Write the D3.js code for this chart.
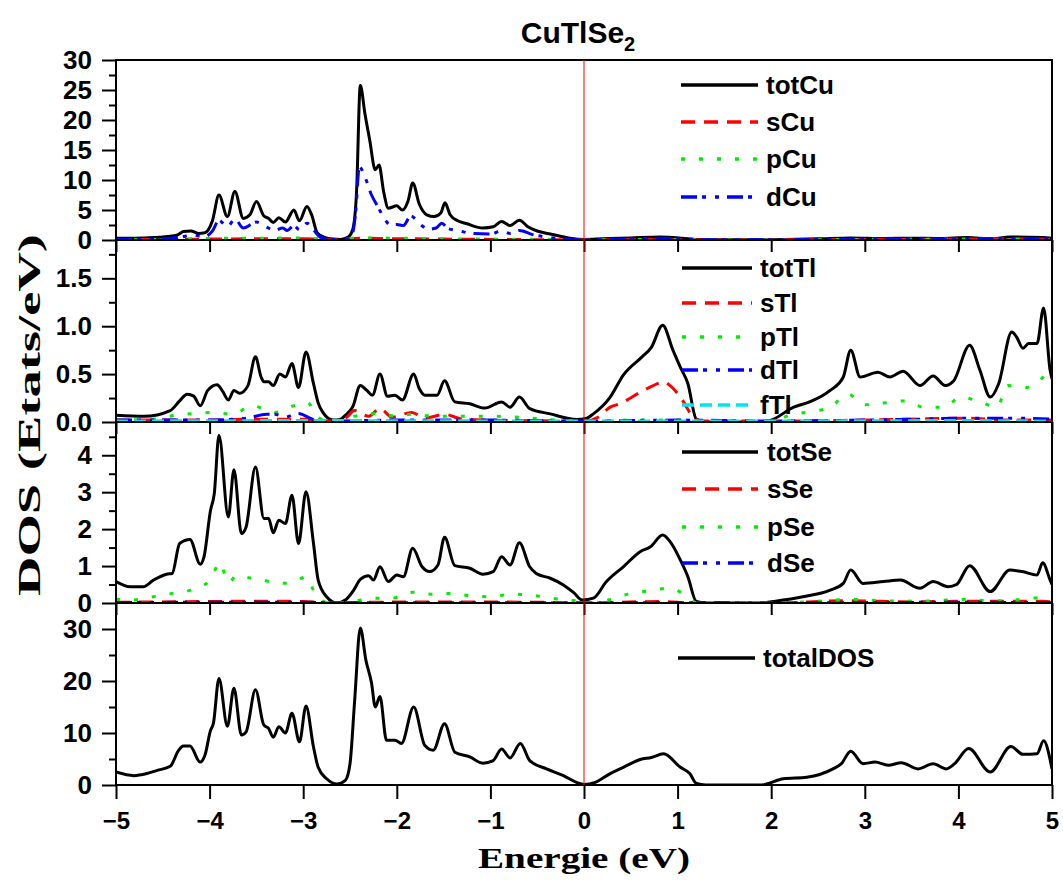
<!DOCTYPE html>
<html>
<head>
<meta charset="utf-8">
<script src="https://cdn.jsdelivr.net/npm/d3@7"></script>
<style>
  body { margin: 0; background: #fff; }
  svg { display: block; }
</style>
</head>
<body>
<svg id="chart" width="1063" height="882"></svg>
<script>
// ---- Energy axis ----
const energyDomain = [-5, 5];
const energyTicks = [-5, -4, -3, -2, -1, 0, 1, 2, 3, 4, 5];

// ---- Cu projected DOS (E in eV, DOS in states/eV) ----
const totCu = [[-5,0.3],[-4.8,0.3],[-4.6,0.4],[-4.45,0.6],[-4.35,0.8],[-4.28,1.4],[-4.2,1.5],[-4.12,1.1],[-4.05,1.2],[-3.97,3.2],[-3.9,7.5],[-3.81,3.9],[-3.73,8.1],[-3.64,3.6],[-3.57,4.2],[-3.5,6.4],[-3.42,4.0],[-3.37,3.6],[-3.32,2.9],[-3.26,3.7],[-3.19,3.0],[-3.1,5.0],[-3.04,3.2],[-2.96,5.6],[-2.91,4.2],[-2.85,1.2],[-2.78,0.5],[-2.68,0.15],[-2.6,0.1],[-2.52,0.5],[-2.47,1.8],[-2.43,8],[-2.39,25.8],[-2.34,21],[-2.29,16.7],[-2.23,11.7],[-2.19,12.5],[-2.14,8],[-2.09,5.3],[-2.0,5.7],[-1.94,5.0],[-1.88,6.5],[-1.83,9.5],[-1.76,6],[-1.68,4.2],[-1.6,3.9],[-1.53,4.5],[-1.485,6.2],[-1.43,4.2],[-1.35,3.2],[-1.25,2.7],[-1.08,2.0],[-0.97,2.2],[-0.88,3.1],[-0.79,2.4],[-0.69,3.3],[-0.6,2.2],[-0.5,1.5],[-0.36,1.0],[-0.15,0.3],[0,0.1],[0.2,0.2],[0.5,0.35],[0.81,0.5],[1.05,0.3],[1.2,0.1],[1.5,0.05],[2.0,0.05],[2.5,0.2],[2.85,0.35],[3.2,0.25],[3.5,0.3],[3.8,0.25],[4.1,0.4],[4.35,0.2],[4.55,0.5],[4.9,0.4],[5,0.3]];
const sCu = [[-5,0.05],[-4,0.15],[-3.5,0.2],[-3,0.2],[-2.7,0.05],[-2.4,0.3],[-2.2,0.25],[-1.8,0.2],[-1.5,0.15],[-1,0.1],[-0.5,0.05],[0,0.02],[0.8,0.1],[1.3,0.02],[2,0.02],[3,0.1],[4,0.15],[4.6,0.2],[5,0.1]];
const pCu = [[-5,0.05],[-4.5,0.1],[-4,0.25],[-3.5,0.3],[-3,0.35],[-2.7,0.05],[-2.4,0.35],[-2,0.3],[-1.5,0.2],[-1,0.15],[-0.5,0.1],[0,0.02],[0.8,0.1],[1.3,0.02],[2,0.02],[3,0.1],[4,0.15],[5,0.1]];
const dCu = [[-5,0.1],[-4.6,0.15],[-4.3,0.5],[-4.2,0.8],[-4.05,0.6],[-3.97,1.5],[-3.9,3.3],[-3.81,2.2],[-3.73,3.5],[-3.64,2.0],[-3.5,3.0],[-3.4,2.2],[-3.3,1.6],[-3.22,2.0],[-3.17,1.6],[-3.1,2.4],[-3.04,1.7],[-2.96,2.8],[-2.88,1.5],[-2.82,0.5],[-2.7,0.1],[-2.55,0.1],[-2.48,0.8],[-2.44,4.5],[-2.4,12.2],[-2.34,10.5],[-2.27,7.5],[-2.2,5.5],[-2.13,3.5],[-2.07,2.5],[-2.0,2.6],[-1.93,2.4],[-1.85,4.0],[-1.75,2.6],[-1.66,1.8],[-1.58,2.0],[-1.52,2.8],[-1.45,1.9],[-1.35,1.6],[-1.2,1.1],[-1.0,1.0],[-0.88,1.5],[-0.79,1.1],[-0.69,1.6],[-0.55,0.9],[-0.4,0.5],[-0.2,0.15],[0,0.05],[0.5,0.2],[0.8,0.3],[1.1,0.15],[1.3,0.05],[2,0.03],[2.85,0.15],[3.5,0.15],[4.1,0.2],[4.6,0.25],[5,0.15]];

// ---- Tl projected DOS ----
const totTl = [[-5,0.07],[-4.7,0.06],[-4.42,0.12],[-4.32,0.22],[-4.24,0.29],[-4.17,0.27],[-4.1,0.17],[-4.02,0.33],[-3.92,0.39],[-3.86,0.32],[-3.8,0.23],[-3.74,0.33],[-3.68,0.3],[-3.59,0.38],[-3.51,0.68],[-3.45,0.47],[-3.42,0.42],[-3.37,0.42],[-3.32,0.38],[-3.25,0.5],[-3.19,0.47],[-3.12,0.61],[-3.05,0.36],[-2.97,0.73],[-2.89,0.4],[-2.84,0.2],[-2.79,0.1],[-2.68,0.02],[-2.6,0.03],[-2.55,0.07],[-2.47,0.16],[-2.39,0.38],[-2.32,0.33],[-2.26,0.28],[-2.18,0.5],[-2.1,0.27],[-2.02,0.28],[-1.94,0.23],[-1.82,0.5],[-1.76,0.35],[-1.7,0.28],[-1.57,0.28],[-1.49,0.43],[-1.38,0.21],[-1.22,0.19],[-1.06,0.145],[-0.88,0.21],[-0.79,0.155],[-0.69,0.26],[-0.58,0.14],[-0.36,0.085],[-0.08,0.026],[0.03,0.04],[0.1,0.085],[0.28,0.26],[0.42,0.49],[0.62,0.68],[0.72,0.78],[0.84,1.01],[0.95,0.75],[1.03,0.57],[1.11,0.4],[1.2,0.03],[1.3,0.0],[1.9,0.0],[1.99,0.015],[2.24,0.155],[2.41,0.21],[2.63,0.33],[2.77,0.47],[2.85,0.75],[2.95,0.47],[3.14,0.52],[3.27,0.47],[3.41,0.53],[3.59,0.38],[3.73,0.48],[3.86,0.38],[3.95,0.43],[4.12,0.8],[4.23,0.54],[4.34,0.26],[4.43,0.4],[4.57,0.94],[4.62,0.89],[4.69,0.77],[4.75,0.82],[4.84,0.82],[4.91,1.19],[4.98,0.54],[5,0.45]];
const sTl = [[-5,0.02],[-4,0.02],[-3.5,0.03],[-3,0.03],[-2.7,0.01],[-2.55,0.04],[-2.45,0.12],[-2.3,0.06],[-2.18,0.14],[-2.05,0.05],[-1.84,0.1],[-1.7,0.04],[-1.49,0.08],[-1.3,0.03],[-1,0.02],[0,0.01],[0.15,0.05],[0.28,0.155],[0.38,0.19],[0.6,0.31],[0.74,0.38],[0.85,0.42],[0.92,0.38],[1.03,0.26],[1.17,0.05],[1.25,0.01],[2,0.01],[3,0.02],[4.1,0.04],[4.5,0.02],[5,0.02]];
const pTl = [[-5,0.02],[-4.6,0.03],[-4.37,0.07],[-4.15,0.09],[-3.95,0.1],[-3.75,0.08],[-3.55,0.17],[-3.3,0.1],[-3.1,0.17],[-2.95,0.2],[-2.85,0.05],[-2.7,0.01],[-2.45,0.06],[-2.2,0.09],[-2.0,0.06],[-1.85,0.08],[-1.6,0.06],[-1.3,0.06],[-1.0,0.06],[-0.7,0.05],[-0.3,0.02],[0,0.01],[0.5,0.02],[1.0,0.02],[1.2,0.01],[2.0,0.01],[2.2,0.07],[2.63,0.155],[2.82,0.29],[3.0,0.18],[3.22,0.2],[3.43,0.22],[3.63,0.155],[3.84,0.155],[4.03,0.26],[4.23,0.21],[4.41,0.155],[4.53,0.38],[4.73,0.36],[4.85,0.42],[4.96,0.52],[5,0.55]];
const dTl = [[-5,0.02],[-4,0.02],[-3.6,0.04],[-3.39,0.08],[-3.3,0.08],[-3.2,0.05],[-3.05,0.09],[-2.9,0.03],[-2.7,0.01],[-2,0.02],[-1,0.02],[0,0.01],[1,0.02],[2,0.01],[3,0.02],[3.6,0.03],[4.1,0.04],[4.6,0.04],[5,0.03]];
const fTl = [[-5,0.01],[-3,0.015],[0,0.01],[2,0.01],[4,0.015],[5,0.01]];

// ---- Se projected DOS ----
const totSe = [[-5,0.58],[-4.85,0.44],[-4.71,0.44],[-4.6,0.62],[-4.46,0.78],[-4.4,0.8],[-4.32,1.61],[-4.21,1.72],[-4.1,1.05],[-4.06,1.25],[-3.99,2.51],[-3.95,2.96],[-3.9,4.54],[-3.8,2.33],[-3.74,3.61],[-3.66,1.88],[-3.61,2.06],[-3.51,3.68],[-3.42,2.29],[-3.37,2.29],[-3.32,1.9],[-3.26,2.24],[-3.19,2.15],[-3.12,2.92],[-3.05,1.61],[-2.97,3.01],[-2.89,1.61],[-2.84,0.62],[-2.75,0.17],[-2.64,0.0],[-2.55,0.08],[-2.46,0.35],[-2.39,0.64],[-2.3,0.74],[-2.25,0.62],[-2.18,0.98],[-2.09,0.58],[-2.0,0.76],[-1.93,0.71],[-1.83,1.48],[-1.73,0.98],[-1.65,0.85],[-1.56,1.03],[-1.49,1.78],[-1.38,1.01],[-1.22,0.94],[-1.08,0.78],[-0.97,0.85],[-0.88,1.25],[-0.79,1.03],[-0.69,1.63],[-0.58,0.98],[-0.51,0.8],[-0.36,0.67],[-0.22,0.49],[-0.11,0.28],[-0.02,0.08],[0.1,0.13],[0.24,0.58],[0.42,0.98],[0.6,1.39],[0.71,1.52],[0.84,1.84],[0.92,1.66],[1.03,1.16],[1.11,0.71],[1.2,0.04],[1.3,0.0],[1.9,0.0],[2.02,0.04],[2.34,0.17],[2.63,0.35],[2.77,0.53],[2.85,0.89],[2.98,0.53],[3.2,0.58],[3.38,0.62],[3.59,0.4],[3.73,0.58],[3.89,0.44],[3.98,0.5],[4.12,1.01],[4.34,0.31],[4.55,0.89],[4.68,0.85],[4.84,0.76],[4.9,1.09],[4.98,0.62],[5,0.5]];
const sSe = [[-5,0.02],[-4,0.04],[-3.5,0.05],[-3,0.04],[-2.7,0.0],[-2.3,0.02],[-1.5,0.03],[-0.5,0.02],[0,0.0],[0.8,0.04],[1.2,0.0],[2,0.0],[2.8,0.06],[3.5,0.03],[4.1,0.05],[4.9,0.05],[5,0.03]];
const pSe = [[-5,0.1],[-4.85,0.08],[-4.6,0.17],[-4.4,0.26],[-4.2,0.35],[-4.0,0.6],[-3.89,1.09],[-3.8,0.55],[-3.71,0.74],[-3.55,0.67],[-3.46,0.64],[-3.26,0.53],[-3.09,0.58],[-2.97,0.71],[-2.87,0.24],[-2.75,0.02],[-2.6,0.0],[-2.45,0.05],[-2.27,0.13],[-2.05,0.13],[-1.83,0.29],[-1.63,0.24],[-1.41,0.26],[-1.2,0.19],[-0.99,0.17],[-0.78,0.24],[-0.58,0.22],[-0.36,0.13],[-0.15,0.08],[0.06,0.0],[0.26,0.08],[0.47,0.24],[0.69,0.33],[0.9,0.4],[1.11,0.17],[1.2,0.01],[2.0,0.01],[2.4,0.03],[2.85,0.1],[3.2,0.06],[3.6,0.05],[4.12,0.1],[4.35,0.05],[4.6,0.08],[4.9,0.15],[5,0.12]];
const dSe = [[-5,0.01],[-4,0.02],[-3,0.02],[-2.6,0],[-2,0.01],[-1,0.01],[0,0],[1,0.01],[2,0],[3,0.01],[4,0.02],[5,0.01]];

// ---- Total DOS ----
const totalDOS = [[-5,2.5],[-4.81,1.8],[-4.67,2.2],[-4.56,2.8],[-4.42,3.6],[-4.33,6.7],[-4.28,7.5],[-4.21,7.5],[-4.1,4.4],[-4.05,5.7],[-3.99,10.5],[-3.96,11.8],[-3.9,20.5],[-3.81,11.3],[-3.74,18.6],[-3.66,9.6],[-3.61,10.2],[-3.51,18.3],[-3.42,11.5],[-3.37,10.9],[-3.32,9.2],[-3.26,11.2],[-3.19,10.0],[-3.12,13.8],[-3.04,8.3],[-2.97,15.2],[-2.89,7.3],[-2.84,3.4],[-2.75,1.2],[-2.64,0.2],[-2.55,0.9],[-2.5,4.1],[-2.45,16.3],[-2.39,30.2],[-2.33,24],[-2.27,19.6],[-2.23,15],[-2.18,17],[-2.11,8.6],[-2.02,8.6],[-1.95,8.0],[-1.82,15],[-1.7,7.6],[-1.61,6.7],[-1.49,11.8],[-1.38,6.3],[-1.22,5.4],[-1.08,4.2],[-0.97,4.7],[-0.88,6.9],[-0.79,5.2],[-0.68,8.0],[-0.58,4.7],[-0.4,3.1],[-0.22,1.8],[-0.08,0.5],[0,0.1],[0.12,0.5],[0.28,2.2],[0.42,3.4],[0.6,4.9],[0.72,5.3],[0.85,6.0],[1.03,3.4],[1.13,2.2],[1.2,0.3],[1.3,0],[1.9,0],[1.95,0.2],[2.13,1.2],[2.38,1.5],[2.66,3.1],[2.75,4.1],[2.85,6.5],[2.98,4.1],[3.11,4.4],[3.25,3.8],[3.39,4.3],[3.57,3.1],[3.73,4.1],[3.87,3.1],[3.96,4.1],[4.11,7.0],[4.34,2.5],[4.56,7.4],[4.69,5.9],[4.84,6.0],[4.91,8.5],[5.0,3.1]];

// ---- Y tick values per panel ----
const cuTicks = [0, 5, 10, 15, 20, 25, 30];
const tlTicks = [0, 0.5, 1.0, 1.5];
const seTicks = [0, 1, 2, 3, 4];
const totTicks = [0, 10, 20, 30];

// ---- Line styles ----
const styles = {
  tot: { color: "#000000", dash: null },
  s:   { color: "#ff0000", dash: "14,9" },
  p:   { color: "#00ee00", dash: "4,14" },
  d:   { color: "#0000ff", dash: "16,5,4,9,4,8" },
  f:   { color: "#00e5ee", dash: "12,6" }
};

const W = 1063, H = 882;
const plotLeft = 116, plotRight = 1052;
const svg = d3.select("#chart");
const x = d3.scaleLinear().domain(energyDomain).range([plotLeft, plotRight]);

const FONT_SANS = "'Liberation Sans', Arial, Helvetica, sans-serif";
const FONT_SERIF = "'Liberation Serif', 'Times New Roman', Times, serif";

const panels = [
  { top: 60,  bottom: 240, yMax: 30,  ticks: cuTicks, minorStep: 2.5, fmt: d3.format("d"),
    series: [["totCu", totCu, "tot"], ["sCu", sCu, "s"], ["pCu", pCu, "p"], ["dCu", dCu, "d"]],
    legend: { x1: 681, x2: 758, tx: 766, ys: [85, 122, 159, 197] }, topTicks: false },
  { top: 240, bottom: 422, yMax: 1.9, ticks: tlTicks, minorStep: 0.25, fmt: d3.format(".1f"),
    series: [["totTl", totTl, "tot"], ["sTl", sTl, "s"], ["pTl", pTl, "p"], ["dTl", dTl, "d"], ["fTl", fTl, "f"]],
    legend: { x1: 682, x2: 752, tx: 760, ys: [268, 303, 337, 370, 405] }, topTicks: true },
  { top: 422, bottom: 603, yMax: 4.9, ticks: seTicks, minorStep: 0.5, fmt: d3.format("d"),
    series: [["totSe", totSe, "tot"], ["sSe", sSe, "s"], ["pSe", pSe, "p"], ["dSe", dSe, "d"]],
    legend: { x1: 682, x2: 758, tx: 767, ys: [452, 489, 527, 563] }, topTicks: true },
  { top: 603, bottom: 785, yMax: 35, ticks: totTicks, minorStep: 5, fmt: d3.format("d"),
    series: [["totalDOS", totalDOS, "tot"]],
    legend: { x1: 678, x2: 755, tx: 763, ys: [658] }, topTicks: true }
];

panels.forEach((p, i) => {
  const y = d3.scaleLinear().domain([0, p.yMax]).range([p.bottom, p.top]);
  const g = svg.append("g");

  const clipId = "clip" + i;
  svg.append("clipPath").attr("id", clipId)
    .append("rect").attr("x", plotLeft).attr("y", p.top)
    .attr("width", plotRight - plotLeft).attr("height", p.bottom - p.top);

  const line = d3.line()
    .x(d => x(d[0])).y(d => y(d[1]))
    .curve(d3.curveMonotoneX);

  const lines = g.append("g").attr("clip-path", `url(#${clipId})`);
  p.series.forEach(([name, data, kind]) => {
    const st = styles[kind];
    lines.append("path")
      .datum(data)
      .attr("d", line)
      .attr("fill", "none")
      .attr("stroke", st.color)
      .attr("stroke-width", 3)
      .attr("stroke-linejoin", "round")
      .attr("stroke-dasharray", st.dash);
  });

  // minor y ticks
  const minorVals = d3.range(p.minorStep, p.yMax, p.minorStep)
    .filter(v => !p.ticks.some(t => Math.abs(t - v) < 1e-9));
  const minorAxis = g.append("g").attr("transform", `translate(${plotLeft},0)`)
    .call(d3.axisLeft(y).tickValues(minorVals).tickSize(7).tickFormat(""));
  minorAxis.select(".domain").remove();
  minorAxis.selectAll("line").attr("stroke", "#000").attr("stroke-width", 2);

  // major y ticks and labels
  const yAxis = g.append("g").attr("transform", `translate(${plotLeft},0)`)
    .call(d3.axisLeft(y).tickValues(p.ticks).tickSize(14).tickPadding(10).tickFormat(p.fmt));
  yAxis.select(".domain").remove();
  yAxis.selectAll("line").attr("stroke", "#000").attr("stroke-width", 2);
  yAxis.selectAll("text")
    .attr("font-family", FONT_SANS).attr("font-weight", "bold")
    .attr("font-size", 26).attr("fill", "#000");

  // inward energy ticks on the top edge
  if (p.topTicks) {
    const tAxis = g.append("g").attr("transform", `translate(0,${p.top})`)
      .call(d3.axisBottom(x).tickValues(energyTicks).tickSize(12).tickFormat(""));
    tAxis.select(".domain").remove();
    tAxis.selectAll("line").attr("stroke", "#000").attr("stroke-width", 2);
  }

  // frame
  g.append("rect")
    .attr("x", plotLeft).attr("y", p.top)
    .attr("width", plotRight - plotLeft).attr("height", p.bottom - p.top)
    .attr("fill", "none").attr("stroke", "#000").attr("stroke-width", 2);

  // legend
  const lg = g.append("g");
  p.series.forEach(([name, data, kind], k) => {
    const st = styles[kind];
    const ly = p.legend.ys[k];
    lg.append("line")
      .attr("x1", p.legend.x1).attr("x2", p.legend.x2)
      .attr("y1", ly).attr("y2", ly)
      .attr("stroke", st.color).attr("stroke-width", 3.5)
      .attr("stroke-dasharray", st.dash);
    lg.append("text")
      .attr("x", p.legend.tx).attr("y", ly).attr("dy", "0.36em")
      .attr("font-family", FONT_SANS).attr("font-weight", "bold")
      .attr("font-size", 26).attr("fill", "#000")
      .text(name);
  });
});

// Fermi level marker
svg.append("line")
  .attr("x1", x(0)).attr("x2", x(0))
  .attr("y1", panels[0].top).attr("y2", panels[3].bottom)
  .attr("stroke", "#ff0000").attr("stroke-width", 1);

// bottom energy axis
const xAxis = svg.append("g").attr("transform", `translate(0,${panels[3].bottom})`)
  .call(d3.axisBottom(x).tickValues(energyTicks).tickSize(14).tickPadding(13).tickFormat(d3.format("d")));
xAxis.select(".domain").remove();
xAxis.selectAll("line").attr("stroke", "#000").attr("stroke-width", 2);
xAxis.selectAll("text")
  .attr("font-family", FONT_SANS).attr("font-weight", "bold")
  .attr("font-size", 24).attr("fill", "#000");

// axis titles
svg.append("text")
  .attr("x", 584).attr("y", 868).attr("text-anchor", "middle")
  .attr("font-family", FONT_SERIF).attr("font-weight", "bold")
  .attr("font-size", 30).attr("fill", "#000")
  .attr("textLength", 212).attr("lengthAdjust", "spacingAndGlyphs")
  .text("Energie (eV)");

svg.append("text")
  .attr("transform", "translate(40,415) rotate(-90)")
  .attr("text-anchor", "middle")
  .attr("font-family", FONT_SERIF).attr("font-weight", "bold")
  .attr("font-size", 31).attr("fill", "#000")
  .attr("textLength", 362).attr("lengthAdjust", "spacingAndGlyphs")
  .text("DOS (Etats/eV)");

// title
const title = svg.append("text")
  .attr("x", 578).attr("y", 43).attr("text-anchor", "middle")
  .attr("font-family", FONT_SANS).attr("font-weight", "bold")
  .attr("font-size", 30).attr("fill", "#000");
title.append("tspan").text("CuTlSe");
title.append("tspan").attr("font-size", 20).attr("dy", 8).text("2");
</script>
</body>
</html>
